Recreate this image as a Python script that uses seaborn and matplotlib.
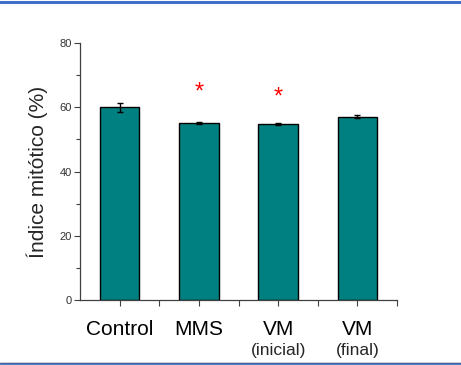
import matplotlib
matplotlib.use("Agg")
import matplotlib.pyplot as plt
from matplotlib.lines import Line2D
from matplotlib.ticker import MultipleLocator, FixedLocator
import seaborn as sns
import pandas as pd

# Mitotic index per treatment (mean and error)
groups = ["Control", "MMS", "VM", "VM"]
sublabels = ["", "", "(inicial)", "(final)"]
means = [60.0, 55.1, 54.8, 57.1]
errors = [1.4, 0.4, 0.3, 0.4]
significant = [False, True, True, False]
star_y = [None, 64.6, 63.0, None]

sns.set_theme(style="ticks")
plt.rcParams["font.family"] = ["Liberation Sans", "DejaVu Sans"]

df = pd.DataFrame({"pos": range(len(means)), "mean": means})

fig = plt.figure(figsize=(4.61, 3.65), dpi=100)
ax = fig.add_axes([80 / 461, 1 - 300 / 365, 317 / 461, 257 / 365])

sns.barplot(data=df, x="pos", y="mean", color="#008080", saturation=1,
            width=0.5, edgecolor="black", linewidth=1.0, errorbar=None,
            native_scale=True, ax=ax)
ax.errorbar(df["pos"], df["mean"], yerr=errors, fmt="none", ecolor="black",
            elinewidth=1.0, capsize=2.5, capthick=1.0, zorder=5)

for i, (sig, sy) in enumerate(zip(significant, star_y)):
    if sig:
        ax.text(i, sy, "*", color="red", fontsize=17, ha="center",
                va="center")

ax.set_xlim(-0.5, 3.5)
ax.set_ylim(0, 80)
ax.yaxis.set_major_locator(MultipleLocator(20))
ax.yaxis.set_minor_locator(MultipleLocator(10))
ax.xaxis.set_major_locator(FixedLocator(list(range(len(groups)))))
ax.xaxis.set_minor_locator(FixedLocator([0.5, 1.5, 2.5, 3.5]))
ax.set_xticklabels(groups, fontsize=15)
ax.set_xlabel("")
ax.set_ylabel("Índice mitótico (%)", fontsize=15, labelpad=8)

ax.tick_params(axis="y", which="major", length=4, width=0.8, labelsize=8,
               colors="#404040", labelcolor="#333333", pad=2)
ax.tick_params(axis="y", which="minor", length=3, width=0.8, colors="#404040")
ax.tick_params(axis="x", which="major", length=4, width=0.8, pad=10.5,
               colors="#404040", labelcolor="black")
ax.tick_params(axis="x", which="minor", length=4, width=0.8, colors="#404040")

for s in ("top", "right"):
    ax.spines[s].set_visible(False)
for s in ("left", "bottom"):
    ax.spines[s].set_color("#404040")
    ax.spines[s].set_linewidth(0.9)

trans = ax.get_xaxis_transform()
for i, sub in enumerate(sublabels):
    if sub:
        ax.text(i, -0.168, sub, transform=trans, ha="center", va="top",
                fontsize=12.5)

# Frame rules at the top and bottom of the slide
fig.add_artist(Line2D([0, 1], [1 - 1.5 / 365, 1 - 1.5 / 365],
                      color="#3F6FC6", linewidth=2.2))
fig.add_artist(Line2D([0, 1], [2.2 / 365, 2.2 / 365],
                      color="#1a1a2a", linewidth=1.0))
fig.add_artist(Line2D([0, 1], [0.8 / 365, 0.8 / 365],
                      color="#3F6FC6", linewidth=1.2))

fig.savefig("out.png", dpi=100)
